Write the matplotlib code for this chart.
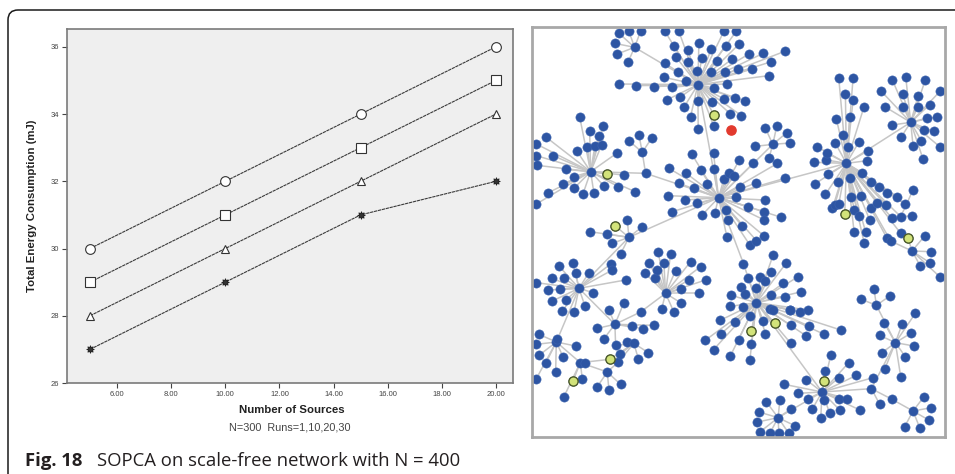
import numpy as np
import matplotlib
matplotlib.use("Agg")
import matplotlib.pyplot as plt
from matplotlib.collections import LineCollection
from matplotlib.path import Path
from matplotlib.patches import PathPatch

# ---- energy chart data ----
sources = [5, 10, 15, 20]
runs_1 = [30, 32, 34, 36]
runs_10 = [29, 31, 33, 35]
runs_20 = [28, 30, 32, 34]
runs_30 = [27, 29, 31, 32]
y_ticks = [26, 28, 30, 32, 34, 36]
x_ticks = [6, 8, 10, 12, 14, 16, 18, 20]

# ---- network layout (hub, leaves) in layout units ----
hub_a = (503, 253)
leaves_a = [(313, 141), (404, 93), (446, 93), (581, 93), (618, 93), (431, 136), (474, 149),
            (506, 129), (543, 146), (586, 136), (627, 131), (404, 189), (438, 171), (474, 186),
            (514, 173), (559, 183), (606, 176), (443, 214), (501, 211), (543, 216), (583, 214),
            (624, 206), (401, 231), (466, 243), (551, 263), (589, 251), (266, 251), (318, 256),
            (371, 259), (426, 261), (409, 299), (449, 291), (503, 303), (546, 306), (581, 296),
            (613, 294), (461, 321), (481, 349), (504, 386), (551, 378), (551, 344), (646, 303),
            (634, 346), (600, 340), (656, 161), (699, 159), (724, 184), (764, 153), (667, 206),
            (716, 226), (565, 592)]
hub_t1 = (313, 141)
leaves_t1 = [(266, 99), (296, 93), (331, 93), (253, 129), (261, 161), (293, 186)]

hub_c = (565, 592)
leaves_c = [(416, 504), (468, 519), (511, 509), (551, 507), (596, 517), (446, 549), (491, 564),
            (531, 551), (581, 537), (611, 527), (414, 586), (464, 599), (501, 609), (618, 589),
            (426, 634), (516, 644), (554, 639), (588, 629), (594, 659), (590, 709), (669, 489),
            (742, 489), (764, 534), (679, 547), (629, 559), (654, 619), (704, 599), (702, 634),
            (702, 659), (754, 651), (636, 677), (702, 707), (679, 721), (659, 734), (485, 462),
            (550, 458), (628, 478), (728, 432), (346, 519), (949, 489), (296, 711), (640, 790)]
hub_c2 = (728, 432)
leaves_c2 = [(705, 382), (740, 377), (770, 397), (780, 428), (676, 438), (717, 472)]

hub_l = (181, 514)
leaves_l = [(148, 349), (178, 391), (219, 376), (206, 406), (194, 436), (214, 434), (171, 441),
            (139, 451), (68, 466), (18, 431), (48, 411), (18, 466), (259, 459), (106, 507),
            (231, 521), (281, 524), (346, 519), (131, 529), (98, 551), (131, 564), (158, 581),
            (191, 579), (221, 557), (264, 559), (314, 574), (54, 577), (18, 611), (20, 495)]
hub_l2 = (336, 456)
leaves_l2 = [(296, 421), (326, 403), (364, 414), (346, 519)]

hub_p = (296, 711)
leaves_p = [(291, 659), (336, 679), (254, 676), (178, 694), (231, 701), (246, 729), (271, 761),
            (146, 864)]

hub_lb = (146, 864)
leaves_lb = [(86, 797), (128, 787), (136, 819), (176, 817), (64, 834), (101, 834), (54, 869),
             (88, 867), (188, 877), (18, 847), (66, 902), (106, 900), (96, 932), (131, 935),
             (164, 917), (241, 791), (246, 809), (286, 839), (254, 972), (78, 1025)]

hub_q = (406, 879)
leaves_q = [(384, 754), (421, 761), (356, 787), (401, 789), (381, 809), (436, 811), (481, 784),
            (511, 799), (476, 839), (526, 839), (343, 817), (374, 834), (451, 867), (506, 879),
            (331, 935), (394, 927), (431, 935), (451, 907)]

hub_s = (254, 972)
leaves_s = [(201, 984), (304, 977), (339, 985), (371, 975), (221, 1015), (256, 1035),
            (236, 929), (281, 907), (331, 935)]
hub_s2 = (311, 1029)
leaves_s2 = [(289, 1025), (354, 1057), (324, 1075), (268, 1062), (264, 1085), (238, 1077),
             (256, 1035)]

hub_ll = (78, 1025)
leaves_ll = [(26, 1002), (81, 1017), (18, 1032), (26, 1065), (46, 1089), (98, 1069),
             (136, 1037), (76, 1115), (18, 1135), (150, 1087)]
hub_ll2 = (150, 1087)
leaves_ll2 = [(164, 1089), (156, 1135), (128, 1142), (101, 1189), (231, 1115), (238, 1077)]
hub_t = (231, 1115)
leaves_t = [(201, 1159), (236, 1169), (271, 1152), (264, 1085)]

hub_m = (679, 907)
leaves_m = [(640, 790), (655, 832), (690, 830), (729, 764), (769, 787), (724, 814), (804, 829),
            (704, 841), (759, 849), (814, 874), (679, 864), (724, 884), (764, 889), (634, 859),
            (603, 885), (645, 880), (600, 918), (640, 920), (720, 925), (780, 928), (659, 947),
            (699, 962), (664, 992), (734, 969), (729, 929), (779, 929), (809, 935), (834, 929),
            (782, 975), (836, 977), (829, 1007), (882, 1002), (932, 989), (782, 1029),
            (706, 1002), (664, 1030), (659, 1079), (625, 1018), (570, 960), (615, 965),
            (573, 1000), (525, 1020), (550, 1048), (600, 1068), (876, 1175)]

hub_bm = (876, 1175)
leaves_bm = [(902, 1065), (956, 1087), (884, 1112), (882, 1142), (926, 1132), (979, 1125),
             (1029, 1132), (829, 1139), (762, 1152), (804, 1179), (834, 1195), (846, 1227),
             (882, 1199), (872, 1252), (899, 1239), (926, 1195), (952, 1195), (929, 1229),
             (989, 1229), (1024, 1165), (744, 1252)]
hub_bm2 = (1024, 1165)
leaves_bm2 = [(1049, 1212), (1086, 1197), (1096, 1027)]
hub_br = (1149, 1232)
leaves_br = [(1182, 1189), (1204, 1222), (1196, 1259), (1169, 1282), (1124, 1279), (1086, 1197)]
hub_bt = (1096, 1027)
leaves_bt = [(1064, 1107), (1112, 1129), (1049, 1005), (1056, 1057), (1062, 967), (1116, 972),
             (1156, 939), (1142, 999), (1152, 1037), (1126, 1069), (1039, 915)]
hub_bt2 = (1039, 915)
leaves_bt2 = [(994, 897), (1079, 887), (1032, 867)]
hub_bl = (744, 1252)
leaves_bl = [(709, 1205), (749, 1200), (784, 1225), (686, 1235), (682, 1265), (796, 1277),
             (689, 1295), (719, 1299), (746, 1299), (776, 1299)]

hub_r = (949, 489)
leaves_r = [(926, 233), (969, 233), (946, 281), (969, 299), (1002, 319), (919, 356), (959, 349),
            (939, 403), (916, 429), (954, 441), (986, 426), (1014, 451), (861, 439), (892, 459),
            (889, 479), (852, 486), (1012, 481), (894, 522), (924, 544), (959, 534), (996, 517),
            (854, 551), (886, 582), (962, 589), (992, 586), (1024, 544), (1046, 561), (914, 614),
            (926, 611), (907, 624), (944, 641), (972, 629), (986, 647), (1019, 659), (1024, 624),
            (1042, 607), (1071, 577), (1102, 589), (1069, 614), (1124, 611), (1086, 654),
            (1112, 649), (972, 694), (1007, 696), (1002, 727), (1071, 714), (1082, 722),
            (1112, 699), (1142, 366)]
hub_r2 = (1112, 649)
leaves_r2 = [(1149, 569), (1146, 646)]
hub_r3 = (1146, 752)
leaves_r3 = [(1082, 722), (1134, 714), (1184, 707), (1202, 754), (1171, 797), (1199, 787),
             (1229, 829)]

hub_rr = (1142, 366)
leaves_rr = [(1052, 271), (1087, 239), (1127, 229), (1186, 239), (1230, 273), (1064, 319),
             (1119, 281), (1164, 288), (1199, 313), (1119, 319), (1164, 319), (1222, 349),
             (1192, 353), (1086, 374), (1182, 388), (1212, 393), (1114, 409), (1149, 436),
             (1174, 421), (1229, 439), (1179, 476)]

# sources marked in the network, and the sink
source_nodes = [(551, 344), (231, 521), (254, 676), (238, 1077), (128, 1142), (664, 992),
                (734, 969), (882, 1142), (944, 641), (1134, 714)]
sink_node = (601, 388)

stars = [(hub_a, leaves_a), (hub_t1, leaves_t1), (hub_c, leaves_c), (hub_c2, leaves_c2),
         (hub_l, leaves_l), (hub_l2, leaves_l2), (hub_p, leaves_p), (hub_lb, leaves_lb),
         (hub_q, leaves_q), (hub_s, leaves_s), (hub_s2, leaves_s2), (hub_ll, leaves_ll),
         (hub_ll2, leaves_ll2), (hub_t, leaves_t), (hub_m, leaves_m), (hub_bm, leaves_bm),
         (hub_bm2, leaves_bm2), (hub_br, leaves_br), (hub_bt, leaves_bt), (hub_bt2, leaves_bt2),
         (hub_bl, leaves_bl), (hub_r, leaves_r), (hub_r2, leaves_r2), (hub_r3, leaves_r3),
         (hub_rr, leaves_rr)]

plt.rcParams["font.family"] = ["Liberation Sans", "DejaVu Sans"]
fig = plt.figure(figsize=(9.55, 4.74), dpi=100)
W, H = 955.0, 474.0

# ---- left: line chart ----
ax = fig.add_axes([67 / W, 1 - 383 / H, (513 - 67) / W, (383 - 29) / H])
ax.set_facecolor("#efefef")
line_kw = dict(color="#3a3a3a", lw=0.8, linestyle=(0, (3, 0.6)), zorder=2)
ax.plot(sources, runs_1, marker="o", ms=7, mfc="white", mec="#333333", mew=0.8, **line_kw)
ax.plot(sources, runs_10, marker="s", ms=6.5, mfc="white", mec="#333333", mew=0.8, **line_kw)
ax.plot(sources, runs_20, marker="^", ms=5.4, mfc="white", mec="#333333", mew=0.8, **line_kw)
ax.plot(sources, runs_30, marker=(8, 1, 0), ms=5.5, mfc="#333333", mec="#222222", mew=0.6,
        **line_kw)
ax.set_xlim(4.15, 20.63)
ax.set_ylim(26, 36.53)
ax.set_yticks(y_ticks)
ax.set_yticklabels([str(v) for v in y_ticks])
ax.set_xticks(x_ticks)
ax.set_xticklabels(["%.2f" % v for v in x_ticks])
ax.tick_params(labelsize=5.5, colors="#444444", length=3.5, width=0.8, pad=2)
for s in ax.spines.values():
    s.set_color("#7a7a7a")
    s.set_linewidth(1.2)
ax.set_ylabel("Total Energy Consumption (mJ)", fontsize=8.2, fontweight="bold",
              color="#222222", labelpad=10)
fig.text(292 / W, 1 - 410 / H, "Number of Sources", fontsize=8.2, fontweight="bold",
         color="#222222", ha="center", va="center")
fig.text(290 / W, 1 - 427 / H, "N=300  Runs=1,10,20,30", fontsize=7.8, color="#444444",
         ha="center", va="center")

# ---- right: network ----
nx = fig.add_axes([532 / W, 1 - 437 / H, 413 / W, 410 / H])
nx.set_xlim(5, 1245)
nx.set_ylim(1310, 80)
nx.set_xticks([])
nx.set_yticks([])
for s in nx.spines.values():
    s.set_color("#a8a8a8")
    s.set_linewidth(2)

segments = []
nodes = []
for hub, leaves in stars:
    nodes.append(hub)
    for leaf in leaves:
        segments.append([hub, leaf])
        nodes.append(leaf)
nx.add_collection(LineCollection(segments, colors="#c6c6c6", linewidths=1.1, zorder=1))
nodes = np.array(sorted(set(nodes)))
nx.scatter(nodes[:, 0], nodes[:, 1], s=44, c="#2d55a3", edgecolors="#3d64b0", linewidths=0.4,
           zorder=2)
src = np.array(source_nodes)
nx.scatter(src[:, 0], src[:, 1], s=44, c="#d2e37a", edgecolors="#4c5a28", linewidths=1.0,
           zorder=3)
nx.scatter([sink_node[0]], [sink_node[1]], s=44, c="#e23a2e", edgecolors="#e23a2e", zorder=3)

# ---- outer frame with rounded corner ----
x0, y0, r = 8, 10, 10
verts = [(x0, H), (x0, y0 + r), (x0, y0), (x0 + r, y0), (W, y0)]
codes = [Path.MOVETO, Path.LINETO, Path.CURVE3, Path.CURVE3, Path.LINETO]
verts = [(vx / W, 1 - vy / H) for vx, vy in verts]
fig.add_artist(PathPatch(Path(verts, codes), transform=fig.transFigure, fill=False,
                         edgecolor="#1a1a1a", lw=1.1))

# ---- caption ----
fig.text(25 / W, 1 - 461 / H, "Fig. 18", fontsize=13.3, fontweight="bold",
         family=["Open Sans", "DejaVu Sans"], color="#231f20", va="center")
fig.text(97 / W, 1 - 461 / H, "SOPCA on scale-free network with N = 400", fontsize=13.3,
         family=["Open Sans", "DejaVu Sans"], color="#231f20", va="center")

fig.savefig("out.png", dpi=100)
